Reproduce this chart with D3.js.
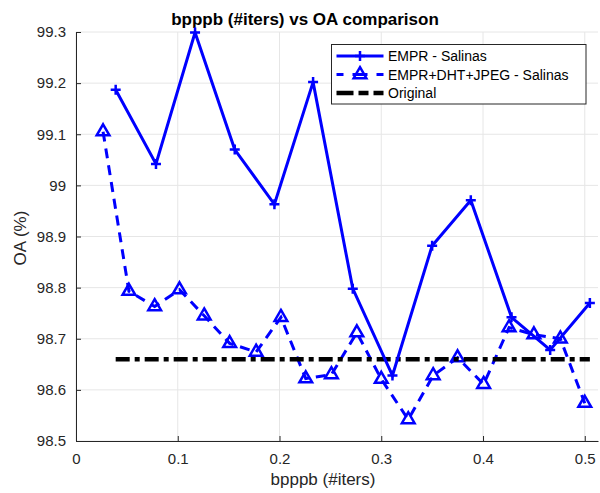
<!DOCTYPE html>
<html>
<head>
<meta charset="utf-8">
<script src="https://cdn.jsdelivr.net/npm/d3@7"></script>
<style>
  body { margin: 0; background: #fff; }
  svg { font-family: "Liberation Sans", Arial, sans-serif; }
</style>
</head>
<body>
<svg id="chart" width="600" height="493"></svg>
<script>
// EMPR - Salinas (solid, + markers)
const emprX = [0.039, 0.0786, 0.117, 0.156, 0.195, 0.233, 0.272, 0.311, 0.350, 0.388, 0.428, 0.466, 0.505];
const emprY = [99.187, 99.042, 99.299, 99.070, 98.963, 99.202, 98.798, 98.628, 98.882, 98.971, 98.742, 98.678, 98.770];

// EMPR+DHT+JPEG - Salinas (dashed, triangle markers)
const dhtX = [0.0266, 0.052, 0.0773, 0.1017, 0.126, 0.151, 0.177, 0.2014, 0.2258, 0.251,
              0.276, 0.300, 0.3265, 0.351, 0.375, 0.4006, 0.4256, 0.450, 0.476, 0.500];
const dhtY = [99.105, 98.793, 98.763, 98.796, 98.745, 98.691, 98.674, 98.742, 98.622, 98.630,
              98.712, 98.621, 98.542, 98.628, 98.663, 98.611, 98.722, 98.708, 98.700, 98.574];

// Original (reference level)
const origX = [0.039, 0.505];
const origY = [98.66, 98.66];

const xTicks = [0, 0.1, 0.2, 0.3, 0.4, 0.5];
const yTicks = [98.5, 98.6, 98.7, 98.8, 98.9, 99, 99.1, 99.2, 99.3];
const legendLabels = ["EMPR - Salinas", "EMPR+DHT+JPEG - Salinas", "Original"];

const svg = d3.select("#chart");
const mLeft = 76, mRight = 598, mTop = 32, mBottom = 441;
const axisColor = "#262626";
const blue = "#0000ff";

const x = d3.scaleLinear().domain([0, 0.513]).range([mLeft, mRight]);
const y = d3.scaleLinear().domain([98.5, 99.3]).range([mBottom, mTop]);

// grid
svg.append("g").selectAll("line").data(xTicks).join("line")
  .attr("x1", d => x(d)).attr("x2", d => x(d))
  .attr("y1", mTop).attr("y2", mBottom)
  .attr("stroke", "#e6e6e6").attr("stroke-width", 1);
svg.append("g").selectAll("line").data(yTicks).join("line")
  .attr("x1", mLeft).attr("x2", mRight)
  .attr("y1", d => y(d)).attr("y2", d => y(d))
  .attr("stroke", "#e6e6e6").attr("stroke-width", 1);

// axes
const xAxis = svg.append("g")
  .attr("transform", "translate(0," + mBottom + ")")
  .call(d3.axisBottom(x).tickValues(xTicks).tickSizeInner(-5).tickSizeOuter(0)
    .tickPadding(12).tickFormat(d => d === 0 ? "0" : d3.format("")(d)));
const yAxis = svg.append("g")
  .attr("transform", "translate(" + mLeft + ",0)")
  .call(d3.axisLeft(y).tickValues(yTicks).tickSizeInner(-5).tickSizeOuter(0)
    .tickPadding(10).tickFormat(d3.format("")));
[xAxis, yAxis].forEach(a => {
  a.select(".domain").attr("stroke", axisColor).attr("stroke-width", 1);
  a.selectAll(".tick line").attr("stroke", axisColor);
  a.selectAll(".tick text").attr("fill", axisColor)
    .style("font-size", "15px").style("font-family", "Liberation Sans, Arial, sans-serif");
});

// labels
svg.append("text").attr("x", 305).attr("y", 25).attr("text-anchor", "middle")
  .style("font-size", "17px").style("font-weight", "bold").attr("fill", "#000")
  .text("bpppb (#iters) vs OA comparison");
svg.append("text").attr("x", 323).attr("y", 485).attr("text-anchor", "middle")
  .style("font-size", "17px").attr("fill", axisColor)
  .text("bpppb (#iters)");
svg.append("text").attr("transform", "translate(26,238) rotate(-90)")
  .attr("text-anchor", "middle")
  .style("font-size", "17px").attr("fill", axisColor)
  .text("OA (%)");

const line = d3.line().x(d => x(d[0])).y(d => y(d[1]));
const emprPts = emprX.map((v, i) => [v, emprY[i]]);
const dhtPts = dhtX.map((v, i) => [v, dhtY[i]]);
const origPts = origX.map((v, i) => [v, origY[i]]);

function drawPlus(g, cx, cy) {
  g.append("path")
    .attr("d", `M${cx - 5},${cy}H${cx + 5}M${cx},${cy - 5}V${cy + 5}`)
    .attr("stroke", blue).attr("stroke-width", 2.5).attr("fill", "none");
}
const tri = d3.symbol().type(d3.symbolTriangle).size(70);
function drawTri(g, cx, cy) {
  g.append("path").attr("d", tri())
    .attr("transform", `translate(${cx},${cy})`)
    .attr("stroke", blue).attr("stroke-width", 2.5).attr("fill", "none")
    .attr("stroke-linejoin", "miter");
}

// dashed series
svg.append("path").datum(dhtPts).attr("d", line)
  .attr("fill", "none").attr("stroke", blue).attr("stroke-width", 3)
  .attr("stroke-dasharray", "10,7");
const gT = svg.append("g");
dhtPts.forEach(p => drawTri(gT, x(p[0]), y(p[1])));

// original
svg.append("path").datum(origPts).attr("d", line)
  .attr("fill", "none").attr("stroke", "#000").attr("stroke-width", 4.5)
  .attr("stroke-dasharray", "14,5,5,5");

// solid series
svg.append("path").datum(emprPts).attr("d", line)
  .attr("fill", "none").attr("stroke", blue).attr("stroke-width", 3)
  .attr("stroke-linejoin", "miter");
const gP = svg.append("g");
emprPts.forEach(p => drawPlus(gP, x(p[0]), y(p[1])));

// legend
const lg = svg.append("g");
lg.append("rect").attr("x", 331.5).attr("y", 44.5).attr("width", 254.5).attr("height", 59.5)
  .attr("fill", "#fff").attr("stroke", axisColor).attr("stroke-width", 1);
const rows = [56, 74.5, 93];
lg.append("line").attr("x1", 336.5).attr("x2", 383.5).attr("y1", rows[0]).attr("y2", rows[0])
  .attr("stroke", blue).attr("stroke-width", 3);
drawPlus(lg, 360, rows[0]);
lg.append("line").attr("x1", 336.5).attr("x2", 383.5).attr("y1", rows[1]).attr("y2", rows[1])
  .attr("stroke", blue).attr("stroke-width", 3).attr("stroke-dasharray", "7,9,15,9,7");
drawTri(lg, 360, rows[1]);
lg.append("line").attr("x1", 336.5).attr("x2", 383.5).attr("y1", rows[2]).attr("y2", rows[2])
  .attr("stroke", "#000").attr("stroke-width", 4.5).attr("stroke-dasharray", "17,5,10,5,12");
lg.selectAll("text.lab").data(legendLabels).join("text")
  .attr("x", 388).attr("y", (d, i) => rows[i] + 5)
  .style("font-size", "14px").attr("fill", "#000")
  .text(d => d);
</script>
</body>
</html>
